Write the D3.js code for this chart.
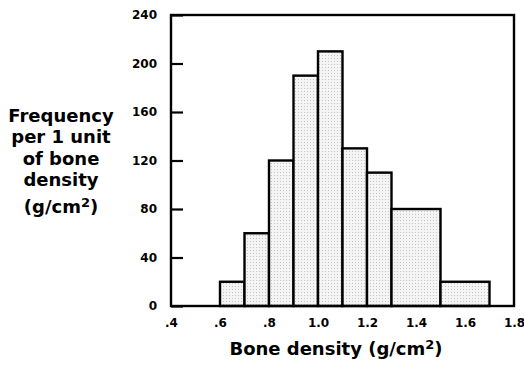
<!DOCTYPE html>
<html>
<head>
<meta charset="utf-8">
<script src="https://cdn.jsdelivr.net/npm/d3@7"></script>
<style>
  body { margin: 0; background: #fff; }
  svg text { font-family: "DejaVu Sans", "Liberation Sans", sans-serif; font-weight: bold; fill: #000; }
</style>
</head>
<body>
<div id="chart"></div>
<script>
const binStarts = [0.6, 0.7, 0.8, 0.9, 1.0, 1.1, 1.2, 1.3, 1.5];
const binEnds = [0.7, 0.8, 0.9, 1.0, 1.1, 1.2, 1.3, 1.5, 1.7];
const frequencies = [20, 60, 120, 190, 210, 130, 110, 80, 20];
const xTicks = [0.4, 0.6, 0.8, 1.0, 1.2, 1.4, 1.6, 1.8];
const xTickLabels = ['.4', '.6', '.8', '1.0', '1.2', '1.4', '1.6', '1.8'];
const yTicks = [0, 40, 80, 120, 160, 200, 240];
const yTitleLines = ['Frequency', 'per 1 unit', 'of bone', 'density'];

const width = 524, height = 366;
const margin = { left: 171, right: 10, top: 15, bottom: 60 };

const svg = d3.select('#chart').append('svg')
    .attr('width', width)
    .attr('height', height);

const defs = svg.append('defs');
const pat = defs.append('pattern')
    .attr('id', 'stipple')
    .attr('width', 3)
    .attr('height', 3)
    .attr('patternUnits', 'userSpaceOnUse');
pat.append('rect').attr('width', 3).attr('height', 3).attr('fill', '#f4f4f4');
pat.append('rect').attr('x', 1).attr('y', 1).attr('width', 1).attr('height', 1).attr('fill', '#c4c4c4');

const x = d3.scaleLinear().domain([0.4, 1.8]).range([margin.left, width - margin.right]);
const y = d3.scaleLinear().domain([0, 240]).range([height - margin.bottom, margin.top]);

const bins = binStarts.map((s, i) => ({ x0: s, x1: binEnds[i], f: frequencies[i] }));

svg.append('g')
    .selectAll('rect')
    .data(bins)
    .join('rect')
    .attr('x', d => x(d.x0))
    .attr('y', d => y(d.f))
    .attr('width', d => x(d.x1) - x(d.x0))
    .attr('height', d => y(0) - y(d.f))
    .attr('fill', 'url(#stipple)')
    .attr('stroke', '#000')
    .attr('stroke-width', 2.4);

// frame
svg.append('rect')
    .attr('x', x(0.4))
    .attr('y', y(240))
    .attr('width', x(1.8) - x(0.4))
    .attr('height', y(0) - y(240))
    .attr('fill', 'none')
    .attr('stroke', '#000')
    .attr('stroke-width', 2.4);

const yAxis = svg.append('g')
    .attr('transform', `translate(${x(0.4)},0)`)
    .call(d3.axisLeft(y).tickValues(yTicks).tickSizeInner(-12).tickSizeOuter(0).tickPadding(14));
yAxis.select('.domain').remove();
yAxis.selectAll('line').attr('stroke-width', 2.2);
yAxis.selectAll('text').style('font-size', '12px');

const xAxis = svg.append('g')
    .attr('transform', `translate(0,${y(0)})`)
    .call(d3.axisBottom(x).tickValues(xTicks).tickSize(0).tickPadding(12)
        .tickFormat((d, i) => xTickLabels[i]));
xAxis.select('.domain').remove();
xAxis.selectAll('text').style('font-size', '12px');

const xTitle = svg.append('text')
    .attr('x', 336)
    .attr('y', 355)
    .attr('text-anchor', 'middle')
    .style('font-size', '18px');
xTitle.append('tspan').text('Bone density (g/cm');
xTitle.append('tspan').attr('dy', -6).style('font-size', '13px').text('2');
xTitle.append('tspan').attr('dy', 6).text(')');

const yTitle = svg.append('g').attr('transform', 'translate(61,0)');
yTitle.selectAll('text.line')
    .data(yTitleLines)
    .join('text')
    .attr('class', 'line')
    .attr('y', (d, i) => 122 + i * 21.3)
    .attr('text-anchor', 'middle')
    .style('font-size', '18px')
    .text(d => d);
const unit = yTitle.append('text')
    .attr('y', 213)
    .attr('text-anchor', 'middle')
    .style('font-size', '18px');
unit.append('tspan').text('(g/cm');
unit.append('tspan').attr('dy', -6).style('font-size', '13px').text('2');
unit.append('tspan').attr('dy', 6).text(')');
</script>
</body>
</html>
